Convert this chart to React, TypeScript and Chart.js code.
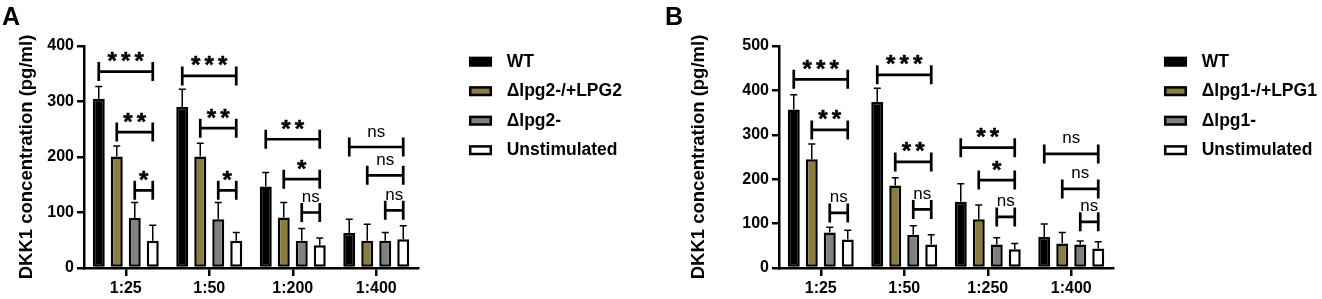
import React, { useEffect, useRef } from "react";
import { Chart, registerables } from "chart.js";

Chart.register(...registerables);

const FONT = "'Liberation Sans', Arial, Helvetica, sans-serif";

// ---------- Panel A data ----------
const categoriesA = ["1:25", "1:50", "1:200", "1:400"];
const seriesLabelsA = ["WT", "Δlpg2-/+LPG2", "Δlpg2-", "Unstimulated"];
const wtA = [305, 290, 147, 63];
const compA = [201, 201, 91, 49];
const mutA = [90, 88, 49, 49];
const unstA = [49, 49, 41, 52];
const wtErrA = [22, 32, 25, 25];
const compErrA = [19, 24, 27, 30];
const mutErrA = [28, 30, 22, 15];
const unstErrA = [28, 15, 13, 24];

// ---------- Panel B data ----------
const categoriesB = ["1:25", "1:50", "1:250", "1:400"];
const seriesLabelsB = ["WT", "Δlpg1-/+LPG1", "Δlpg1-", "Unstimulated"];
const wtB = [357, 374, 149, 70];
const compB = [245, 186, 110, 55];
const mutB = [80, 75, 53, 53];
const unstB = [64, 53, 42, 44];
const wtErrB = [33, 31, 41, 29];
const compErrB = [34, 17, 32, 25];
const mutErrB = [12, 20, 15, 8];
const unstErrB = [21, 22, 13, 15];

// significance brackets: category index, from-series, to-series, y value, label
type Bracket = { cat: number; from: number; to: number; y: number; label: string };
const bracketsA: Bracket[] = [
  { cat: 0, from: 0, to: 3, y: 354, label: "***" },
  { cat: 0, from: 1, to: 3, y: 245, label: "**" },
  { cat: 0, from: 2, to: 3, y: 140, label: "*" },
  { cat: 1, from: 0, to: 3, y: 346, label: "***" },
  { cat: 1, from: 1, to: 3, y: 252, label: "**" },
  { cat: 1, from: 2, to: 3, y: 140, label: "*" },
  { cat: 2, from: 0, to: 3, y: 232, label: "**" },
  { cat: 2, from: 1, to: 3, y: 160, label: "*" },
  { cat: 2, from: 2, to: 3, y: 100, label: "ns" },
  { cat: 3, from: 0, to: 3, y: 218, label: "ns" },
  { cat: 3, from: 1, to: 3, y: 167, label: "ns" },
  { cat: 3, from: 2, to: 3, y: 104, label: "ns" },
];
const bracketsB: Bracket[] = [
  { cat: 0, from: 0, to: 3, y: 425, label: "***" },
  { cat: 0, from: 1, to: 3, y: 311, label: "**" },
  { cat: 0, from: 2, to: 3, y: 124, label: "ns" },
  { cat: 1, from: 0, to: 3, y: 435, label: "***" },
  { cat: 1, from: 1, to: 3, y: 239, label: "**" },
  { cat: 1, from: 2, to: 3, y: 132, label: "ns" },
  { cat: 2, from: 0, to: 3, y: 271, label: "**" },
  { cat: 2, from: 1, to: 3, y: 198, label: "*" },
  { cat: 2, from: 2, to: 3, y: 115, label: "ns" },
  { cat: 3, from: 0, to: 3, y: 257, label: "ns" },
  { cat: 3, from: 1, to: 3, y: 178, label: "ns" },
  { cat: 3, from: 2, to: 3, y: 104, label: "ns" },
];

const yTitle = "DKK1 concentration (pg/ml)";
const seriesColors = ["#000000", "#8C7D3C", "#808080", "#FFFFFF"];

interface Panel {
  letter: string;
  categories: string[];
  labels: string[];
  means: number[][];
  errs: number[][];
  brackets: Bracket[];
  yMax: number;
  canvasLeft: number;
  canvasWidth: number;
  axisX: number;
  padRight: number;
  titlePad: number;
  letterX: number;
}

const panelA: Panel = {
  letter: "A",
  categories: categoriesA,
  labels: seriesLabelsA,
  means: [wtA, compA, mutA, unstA],
  errs: [wtErrA, compErrA, mutErrA, unstErrA],
  brackets: bracketsA,
  yMax: 400,
  canvasLeft: 0,
  canvasWidth: 660,
  axisX: 84,
  padRight: 242,
  titlePad: 15.7,
  letterX: 2,
};

const panelB: Panel = {
  letter: "B",
  categories: categoriesB,
  labels: seriesLabelsB,
  means: [wtB, compB, mutB, unstB],
  errs: [wtErrB, compErrB, mutErrB, unstErrB],
  brackets: bracketsB,
  yMax: 500,
  canvasLeft: 660,
  canvasWidth: 662,
  axisX: 119,
  padRight: 209,
  titlePad: 27.7,
  letterX: 5,
};

function makePlugin(p: Panel) {
  return {
    id: "annot" + p.letter,
    afterDatasetsDraw(chart: any) {
      const ctx: CanvasRenderingContext2D = chart.ctx;
      const ys = chart.scales.y;
      ctx.save();
      // error bars (upper whisker only)
      ctx.strokeStyle = "#000";
      ctx.lineWidth = 1.5;
      p.means.forEach((arr, d) => {
        const meta = chart.getDatasetMeta(d);
        arr.forEach((v, c) => {
          const el = meta.data[c];
          const x = el.x;
          const y0 = el.y;
          const y1 = ys.getPixelForValue(v + p.errs[d][c]);
          ctx.beginPath();
          ctx.moveTo(x, y0);
          ctx.lineTo(x, y1);
          ctx.moveTo(x - 3.5, y1);
          ctx.lineTo(x + 3.5, y1);
          ctx.stroke();
        });
      });
      // significance brackets
      p.brackets.forEach((b) => {
        const x1 = chart.getDatasetMeta(b.from).data[b.cat].x;
        const x2 = chart.getDatasetMeta(b.to).data[b.cat].x;
        const y = ys.getPixelForValue(b.y);
        ctx.strokeStyle = "#000";
        ctx.lineWidth = 2.7;
        ctx.beginPath();
        ctx.moveTo(x1, y);
        ctx.lineTo(x2, y);
        ctx.moveTo(x1, y - 9.5);
        ctx.lineTo(x1, y + 9.5);
        ctx.moveTo(x2, y - 9.5);
        ctx.lineTo(x2, y + 9.5);
        ctx.stroke();
        const cx = (x1 + x2) / 2;
        const cy = y - 15;
        ctx.fillStyle = "#000";
        ctx.textAlign = "center";
        ctx.textBaseline = "alphabetic";
        if (b.label === "ns") {
          ctx.font = `17px ${FONT}`;
          const m = ctx.measureText("ns");
          const base = cy + (m.actualBoundingBoxAscent - m.actualBoundingBoxDescent) / 2;
          ctx.fillText("ns", cx, base);
        } else {
          ctx.font = `bold 28px ${FONT}`;
          const m0 = ctx.measureText("*");
          const h0 = m0.actualBoundingBoxAscent + m0.actualBoundingBoxDescent;
          const size = h0 > 0 ? (28 * 9.5) / h0 : 29;
          ctx.font = `bold ${size}px ${FONT}`;
          const m = ctx.measureText("*");
          const base = cy + (m.actualBoundingBoxAscent - m.actualBoundingBoxDescent) / 2;
          const n = b.label.length;
          ctx.strokeStyle = "#000";
          ctx.lineWidth = 0.5;
          ctx.lineJoin = "round";
          for (let k = 0; k < n; k++) {
            const ax = cx + (k - (n - 1) / 2) * 13.5;
            ctx.fillText("*", ax, base);
            ctx.strokeText("*", ax, base);
          }
        }
      });
      ctx.restore();
    },
    afterDraw(chart: any) {
      const ctx: CanvasRenderingContext2D = chart.ctx;
      ctx.save();
      // legend
      const lx = chart.chartArea.right + 51;
      p.labels.forEach((lab, i) => {
        const cy = 61.7 + i * 29.5;
        ctx.fillStyle = seriesColors[i];
        ctx.fillRect(lx + 1.2, cy - 3.8, 20.6, 7.6);
        ctx.strokeStyle = "#000";
        ctx.lineWidth = 2.5;
        ctx.strokeRect(lx + 1.2, cy - 3.8, 20.6, 7.6);
        ctx.fillStyle = "#000";
        ctx.font = `bold 17.5px ${FONT}`;
        ctx.textAlign = "left";
        ctx.textBaseline = "middle";
        ctx.fillText(lab, lx + 37.7, cy);
      });
      // panel letter
      ctx.fillStyle = "#000";
      ctx.font = `bold 25px ${FONT}`;
      ctx.textAlign = "left";
      ctx.textBaseline = "alphabetic";
      ctx.fillText(p.letter, p.letterX, 25);
      ctx.restore();
    },
  };
}

function makeConfig(p: Panel): any {
  return {
    type: "bar",
    data: {
      labels: p.categories,
      datasets: p.means.map((s, i) => ({
        label: p.labels[i],
        data: s,
        backgroundColor: seriesColors[i],
        borderColor: "#000",
        borderWidth: 2.5,
        borderSkipped: false,
        categoryPercentage: 0.862,
        barPercentage: 0.667,
      })),
    },
    options: {
      animation: false,
      responsive: false,
      maintainAspectRatio: false,
      events: [],
      layout: { padding: { left: 0, top: 46, right: p.padRight, bottom: 0 } },
      plugins: { legend: { display: false }, tooltip: { enabled: false } },
      scales: {
        x: {
          offset: true,
          grid: {
            offset: false,
            drawOnChartArea: false,
            drawTicks: true,
            tickLength: 8,
            color: "#000",
            lineWidth: 2.5,
          },
          border: { display: true, color: "#000", width: 2.5 },
          ticks: {
            color: "#000",
            font: { family: FONT, size: 16, weight: "bold" },
            padding: 3,
            maxRotation: 0,
            autoSkip: false,
          },
          afterFit: (s: any) => {
            s.height = 31;
          },
        },
        y: {
          min: 0,
          max: p.yMax,
          grid: {
            drawOnChartArea: false,
            drawTicks: true,
            tickLength: 7,
            color: "#000",
            lineWidth: 2.5,
          },
          border: { display: true, color: "#000", width: 2.5 },
          ticks: {
            stepSize: 100,
            color: "#000",
            font: { family: FONT, size: 16, weight: "bold" },
            padding: 3,
          },
          title: {
            display: true,
            text: yTitle,
            color: "#000",
            font: { family: FONT, size: 18.5, weight: "bold" },
            padding: { top: p.titlePad, bottom: 0 },
          },
          afterFit: (s: any) => {
            s.width = p.axisX;
          },
        },
      },
    },
    plugins: [makePlugin(p)],
  };
}

function PanelChart({ p }: { p: Panel }) {
  const ref = useRef<HTMLCanvasElement>(null);
  useEffect(() => {
    if (!ref.current) return;
    const chart = new Chart(ref.current, makeConfig(p));
    return () => chart.destroy();
  }, [p]);
  return (
    <canvas
      ref={ref}
      width={p.canvasWidth}
      height={299}
      style={{
        position: "absolute",
        left: p.canvasLeft,
        top: 0,
        width: p.canvasWidth,
        height: 299,
      }}
    />
  );
}

export default function App() {
  return (
    <div
      style={{
        position: "fixed",
        left: 0,
        top: 0,
        width: 1322,
        height: 299,
        background: "#fff",
        overflow: "hidden",
      }}
    >
      <PanelChart p={panelA} />
      <PanelChart p={panelB} />
    </div>
  );
}
